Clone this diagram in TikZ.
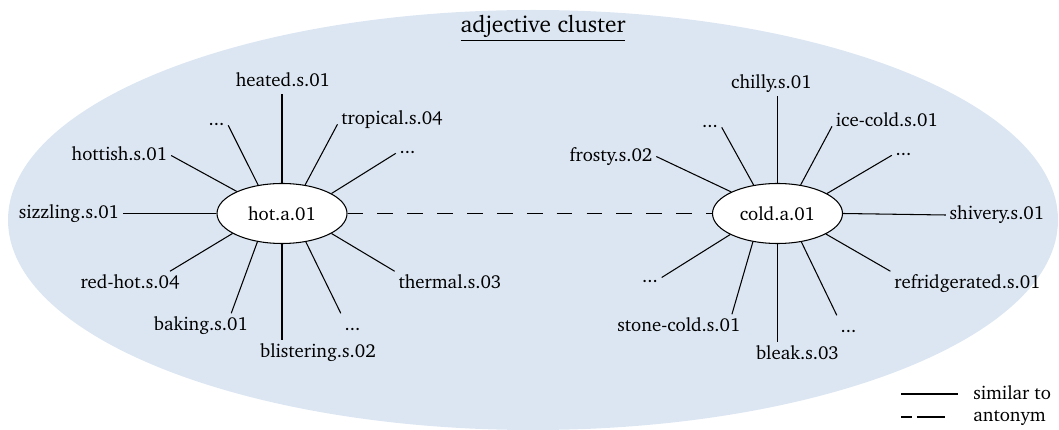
\documentclass[tikz,border=0pt]{standalone}
\usepackage[T1]{fontenc}
\usepackage{charter}
\usepackage{xcolor}
\usepackage{tikz}
\usetikzlibrary{positioning,shapes.geometric}
\definecolor{clusterBlue}{HTML}{DCE6F2}

\begin{document}
\begin{tikzpicture}[font=\fontsize{10.7}{13}\selectfont,
  lbl/.style={inner sep=2pt,text height=7.5pt,text depth=2pt},
  synset/.style={ellipse,draw,fill=white,line width=0.6pt,minimum width=2.6cm,minimum height=1.2cm,inner sep=0pt},
  sim/.style={line width=0.6pt},
  ant/.style={line width=0.6pt,dash pattern=on 9pt off 8pt}]
\useasboundingbox (0,0) rectangle (21.18,8.6);
% --- cluster background ---
  \fill[clusterBlue] (10.66,4.2) ellipse [x radius=10.5cm,y radius=4.2cm];
  \node[anchor=base] (title) at (10.86,7.94) {\fontsize{13.3}{16}\selectfont\underline{adjective cluster}};
% --- head synsets ---
  \node[synset] (hot) at (5.64,4.33) {hot.a.01};
  \node[synset] (cold) at (15.55,4.33) {cold.a.01};
  \draw[ant] (hot) -- (cold);
% --- satellites of hot ---
  \node[lbl] (heated) at (5.66,6.97) {heated.s.01};
  \node[lbl] (tropical) at (7.84,6.21) {tropical.s.04};
  \node[lbl] (hotdotsA) at (8.15,5.63) {...};
  \node[lbl] (hotdotsB) at (4.33,6.19) {...};
  \node[lbl] (hottish) at (2.39,5.49) {hottish.s.01};
  \node[lbl] (sizzling) at (1.38,4.33) {sizzling.s.01};
  \node[lbl] (redhot) at (2.6,2.93) {red-hot.s.04};
  \node[lbl] (baking) at (4.02,2.09) {baking.s.01};
  \node[lbl] (blistering) at (6.36,1.55) {blistering.s.02};
  \node[lbl] (hotdotsC) at (7.05,2.09) {...};
  \node[lbl] (thermal) at (9.0,2.93) {thermal.s.03};
  \draw[sim] (hot.90) -- (heated.south -| hot);
  \draw[sim] (hot.51) -- (tropical.base west);
  \draw[sim] (hot.22) -- (hotdotsA.base west);
  \draw[sim] (hot.130) -- (hotdotsB.base east);
  \draw[sim] (hot.154) -- (hottish.east);
  \draw[sim] (hot.180) -- (sizzling.east);
  \draw[sim] (hot.202) -- (redhot.17);
  \draw[sim] (hot.229) -- (baking.22);
  \draw[sim] (hot.270) -- (blistering.north -| hot);
  \draw[sim] (hot.310) -- (hotdotsC.north west);
  \draw[sim] (hot.338) -- (thermal.north west);
% --- satellites of cold ---
  \node[lbl] (chilly) at (15.43,6.93) {chilly.s.01};
  \node[lbl] (icecold) at (17.74,6.17) {ice-cold.s.01};
  \node[lbl] (colddotsA) at (18.07,5.59) {...};
  \node[lbl] (colddotsB) at (14.2,6.15) {...};
  \node[lbl] (frosty) at (12.22,5.47) {frosty.s.02};
  \node[lbl] (shivery) at (19.94,4.3) {shivery.s.01};
  \node[lbl] (refrig) at (19.35,2.93) {refridgerated.s.01};
  \node[lbl] (colddotsC) at (16.97,2.05) {...};
  \node[lbl] (bleak) at (15.95,1.51) {bleak.s.03};
  \node[lbl] (stonecold) at (13.58,2.07) {stone-cold.s.01};
  \node[lbl] (colddotsD) at (13.0,3.05) {...};
  \draw[sim] (cold.90) -- (chilly.south -| cold);
  \draw[sim] (cold.51) -- (icecold.base west);
  \draw[sim] (cold.22) -- (colddotsA.base west);
  \draw[sim] (cold.130) -- (colddotsB.base east);
  \draw[sim] (cold.155) -- (frosty.east);
  \draw[sim] (cold.0) -- (shivery.west);
  \draw[sim] (cold.337) -- (refrig.north west);
  \draw[sim] (cold.310) -- (colddotsC.north west);
  \draw[sim] (cold.270) -- (bleak.north -| cold);
  \draw[sim] (cold.229) -- (stonecold.13);
  \draw[sim] (cold.204) -- (colddotsD.east);
% --- legend ---
  \coordinate (simA) at (18.02,0.72);
  \coordinate (simB) at (19.16,0.72);
  \coordinate (antA) at (18.02,0.26);
  \coordinate (antB) at (18.9,0.26);
  \draw[sim] (simA) -- (simB);
  \draw[ant,dash pattern=on 6pt off 3pt on 20pt] (antA) -- (antB);
  \node[anchor=base west,inner sep=0pt] (simlbl) at (19.46,0.6) {similar to};
  \node[anchor=base west,inner sep=0pt] (antlbl) at (19.46,0.18) {antonym};
\end{tikzpicture}
\end{document}
